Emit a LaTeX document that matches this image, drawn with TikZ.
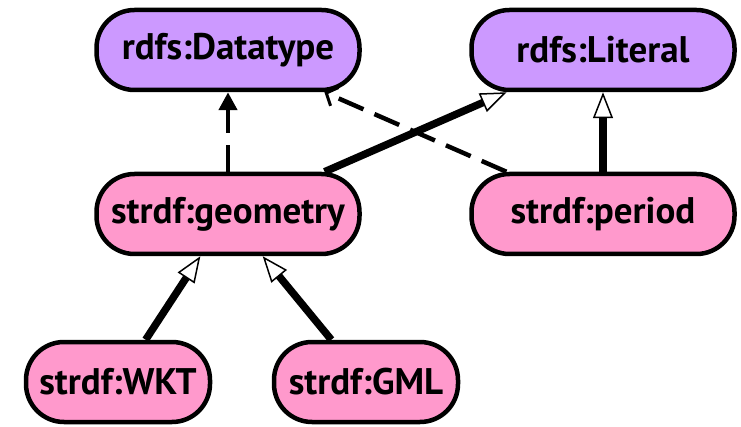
\documentclass[tikz,border=0pt]{standalone}
\usepackage{fontspec}
\setmainfont{PT Sans}
\usetikzlibrary{arrows.meta}
\definecolor{dtpurple}{HTML}{CC99FF}
\definecolor{strpink}{HTML}{FF99CC}
\begin{document}
\begin{tikzpicture}[x=1pt, y=-1pt,
	entity/.style={draw, line width=4.5pt, rectangle, rounded corners=38pt, minimum width=263pt, minimum height=80pt, inner sep=0pt, font=\fontsize{37}{44}\selectfont\bfseries},
	small/.style={entity, minimum width=184pt},
	subclass/.style={line width=7.5pt, -{Triangle[length=26pt, width=20pt, fill=white, line width=1.5pt]}},
	typeof/.style={line width=4.5pt, dash pattern=on 27pt off 12pt}]
	\useasboundingbox (0,0) rectangle (741,427);

	\node[entity, fill=dtpurple] (A) at (228, 50) {rdfs:Datatype};
	\node[entity, fill=dtpurple] (B) at (603, 50) {rdfs:Literal};
	\node[entity, fill=strpink] (C) at (228, 214) {strdf:geometry};
	\node[entity, fill=strpink] (D) at (603, 214) {strdf:period};
	\node[small, fill=strpink] (E) at (118, 382) {strdf:WKT};
	\node[small, fill=strpink] (F) at (366, 382) {strdf:GML};

	\draw (C) edge[typeof, -{Triangle[length=18pt, width=18pt]}] (A);
	\draw (D) edge[typeof, -{Straight Barb[length=9pt, width=20pt, line width=3pt]}] (A);
	\draw (C) edge[subclass] (B);
	\draw (D) edge[subclass] (B);
	\draw (E) edge[subclass] (C);
	\draw (F) edge[subclass] (C);
\end{tikzpicture}
\end{document}
